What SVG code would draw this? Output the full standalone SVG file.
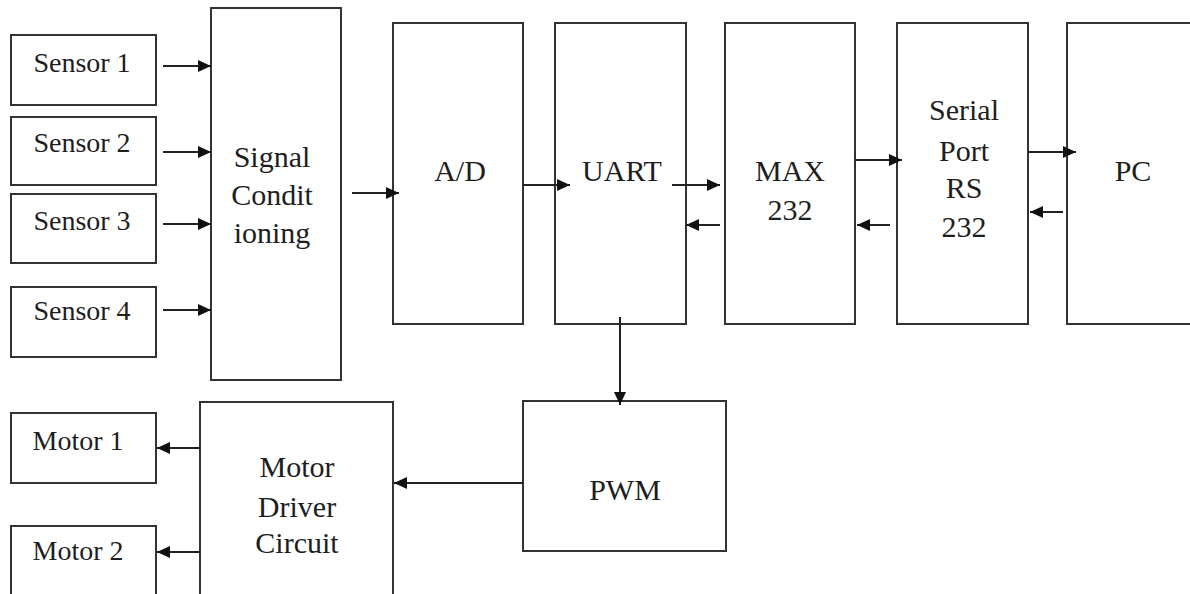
<svg xmlns="http://www.w3.org/2000/svg" width="1190" height="594" viewBox="0 0 1190 594">
<style>
.box{fill:#fff;stroke:#333;stroke-width:2}
.t{font-family:'Liberation Serif','Times New Roman',serif;fill:#1e1e1e;text-anchor:middle}
.s{font-size:28px}
.b{font-size:30px}
.c{stroke:#222;stroke-width:2;fill:none;marker-end:url(#ah)}
</style>
<defs>
<marker id="ah" markerUnits="userSpaceOnUse" markerWidth="14" markerHeight="12" refX="13" refY="6" orient="auto">
<path d="M0,0 L13,6 L0,12 Z" fill="#111"/>
</marker>
</defs>
<rect width="1190" height="594" fill="#fff"/>
<g id="sensor1"><rect class="box" x="11" y="35" width="145" height="70"/><text class="t s" x="82" y="72">Sensor 1</text></g>
<g id="sensor2"><rect class="box" x="11" y="117" width="145" height="68"/><text class="t s" x="82" y="152">Sensor 2</text></g>
<g id="sensor3"><rect class="box" x="11" y="194" width="145" height="69"/><text class="t s" x="82" y="230">Sensor 3</text></g>
<g id="sensor4"><rect class="box" x="11" y="287" width="145" height="70"/><text class="t s" x="82" y="320">Sensor 4</text></g>
<g id="signal"><rect class="box" x="211" y="8" width="130" height="372"/><text class="t b" x="272" y="167">Signal</text><text class="t b" x="272" y="205">Condit</text><text class="t b" x="272" y="243">ioning</text></g>
<g id="ad"><rect class="box" x="393" y="23" width="130" height="301"/><text class="t b" x="460" y="181">A/D</text></g>
<g id="uart"><rect class="box" x="555" y="23" width="131" height="301"/><text class="t b" x="622" y="181">UART</text></g>
<g id="max232"><rect class="box" x="725" y="23" width="130" height="301"/><text class="t b" x="790" y="181">MAX</text><text class="t b" x="790" y="220">232</text></g>
<g id="serial"><rect class="box" x="897" y="23" width="131" height="301"/><text class="t b" x="964" y="120">Serial</text><text class="t b" x="964" y="161">Port</text><text class="t b" x="964" y="198">RS</text><text class="t b" x="964" y="237">232</text></g>
<g id="pc"><rect class="box" x="1067" y="23" width="140" height="301"/><text class="t b" x="1133" y="181">PC</text></g>
<g id="pwm"><rect class="box" x="523" y="401" width="203" height="150"/><text class="t b" x="625" y="500">PWM</text></g>
<g id="driver"><rect class="box" x="200" y="402" width="193" height="210"/><text class="t b" x="297" y="477">Motor</text><text class="t b" x="297" y="517">Driver</text><text class="t b" x="297" y="553">Circuit</text></g>
<g id="motor1"><rect class="box" x="11" y="413" width="145" height="70"/><text class="t s" x="78" y="450">Motor 1</text></g>
<g id="motor2"><rect class="box" x="11" y="526" width="145" height="80"/><text class="t s" x="78" y="560">Motor 2</text></g>
<g id="connectors">
<line class="c" x1="163" y1="66" x2="211" y2="66"/>
<line class="c" x1="163" y1="152" x2="211" y2="152"/>
<line class="c" x1="163" y1="224" x2="211" y2="224"/>
<line class="c" x1="163" y1="310" x2="211" y2="310"/>
<line class="c" x1="352" y1="193" x2="399" y2="193"/>
<line class="c" x1="523" y1="185" x2="570" y2="185"/>
<line class="c" x1="672" y1="185" x2="720" y2="185"/>
<line class="c" x1="720" y1="225" x2="686" y2="225"/>
<line class="c" x1="855" y1="160" x2="902" y2="160"/>
<line class="c" x1="890" y1="225" x2="857" y2="225"/>
<line class="c" x1="1028" y1="152" x2="1076" y2="152"/>
<line class="c" x1="1063" y1="212" x2="1030" y2="212"/>
<line class="c" x1="620" y1="317" x2="620" y2="405"/>
<line class="c" x1="523" y1="483" x2="394" y2="483"/>
<line class="c" x1="200" y1="448" x2="157" y2="448"/>
<line class="c" x1="200" y1="552" x2="157" y2="552"/>
</g>
</svg>
